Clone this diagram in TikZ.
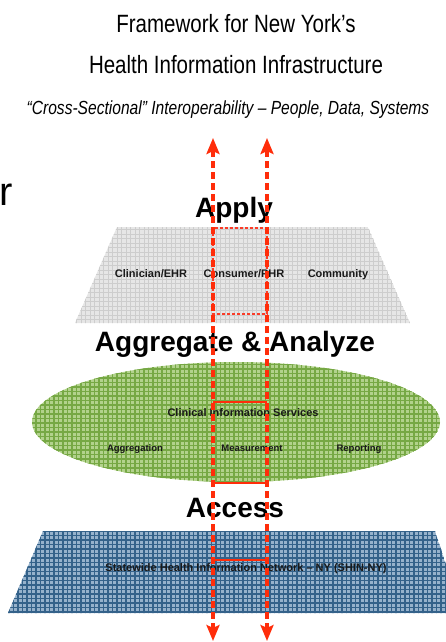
\documentclass[tikz,border=0pt]{standalone}
\usepackage{fontspec}
\setmainfont{Liberation Sans}
\newfontfamily\narrowsans[FakeStretch=0.82]{Liberation Sans}
\usetikzlibrary{arrows.meta}

\definecolor{flowred}{RGB}{255,45,10}
\definecolor{boxred}{RGB}{250,60,40}
\definecolor{layergray}{RGB}{230,230,230}
\definecolor{meshgray}{RGB}{205,205,205}
\definecolor{layergreen}{RGB}{178,210,140}
\definecolor{meshgreen}{RGB}{118,168,68}
\definecolor{layerblue}{RGB}{150,178,204}
\definecolor{meshblue}{RGB}{52,98,138}
\definecolor{labelink}{RGB}{25,25,25}

% fill a closed path and lay a square mesh over it
\newcommand\meshfill[4]{%
  \begin{scope}
    \clip #1;
    \fill[#2] #1;
    \foreach \k in {0,...,140} {
      \draw[#3, line width=#4] (\k*4.5,0) -- (\k*4.5,642);
      \draw[#3, line width=#4] (0,\k*4.5) -- (445,\k*4.5);
    }
  \end{scope}}

\tikzset{
  title/.style={font=\narrowsans\fontsize{25}{25}\selectfont, anchor=base, inner sep=0pt},
  subtitle/.style={font=\narrowsans\itshape\fontsize{19}{19}\selectfont, anchor=base, inner sep=0pt},
  stage/.style={font=\bfseries\fontsize{28}{28}\selectfont, anchor=base, inner sep=0pt},
  part/.style={font=\bfseries\fontsize{11}{11}\selectfont, text=labelink, anchor=base, inner sep=0pt},
  smallpart/.style={font=\bfseries\fontsize{9.5}{9.5}\selectfont, text=labelink, anchor=base, inner sep=0pt},
  flow/.style={draw=flowred, line width=4pt, dash pattern=on 7pt off 4pt,
    {Stealth[length=16pt,width=13pt,inset=3pt]}-{Stealth[length=16pt,width=13pt,inset=3pt]}},
  linkbar/.style={draw=flowred, line width=1.6pt},
  linkbox/.style={draw=boxred, line width=1.3pt, dash pattern=on 3pt off 2pt},
}

\begin{document}
\begin{tikzpicture}[x=1pt,y=-1pt]
  \useasboundingbox (0,0) rectangle (445,642);

  % headings
  \node[title] (t1) at (236,33) {Framework for New York’s};
  \node[title] (t2) at (236,74) {Health Information Infrastructure};
  \node[subtitle] (t3) at (228,114) {“Cross-Sectional” Interoperability – People, Data, Systems};
  \node[font=\fontsize{40}{40}\selectfont, anchor=base west, inner sep=0pt] (cut) at (-1,205) {r};

  % application layer
  \meshfill{(117,227) -- (368,227) -- (410,323) -- (75,323) -- cycle}{layergray}{meshgray}{0.7pt}
  \node[part] (clin) at (151,277) {Clinician/EHR};
  \node[part] (cons) at (244,277) {Consumer/PHR};
  \node[part] (comm) at (338,277) {Community};

  % clinical information services
  \meshfill{(236,422) ellipse [x radius=204, y radius=60]}{layergreen}{meshgreen}{1.4pt}
  \node[part] (cis) at (243,416) {Clinical Information Services};
  \node[smallpart] (agg) at (135,451) {Aggregation};
  \node[smallpart] (meas) at (252,451) {Measurement};
  \node[smallpart] (rep) at (359,451) {Reporting};

  % statewide network
  \meshfill{(43,531) -- (435,531) -- (462,613) -- (8,613) -- cycle}{layerblue}{meshblue}{1.6pt}
  \node[part] (shin) at (246,571) {Statewide Health Information Network – NY (SHIN-NY)};

  % stage labels
  \node[stage] (apply) at (234,217) {Apply};
  \node[stage] (aa) at (235,351) {Aggregate \& Analyze};
  \node[stage] (acc) at (235,517) {Access};

  % cross-sectional channel
  \coordinate (lt) at (213,138);
  \coordinate (lb) at (213,641);
  \coordinate (rt) at (267,138);
  \coordinate (rb) at (267,641);
  \coordinate (b1l) at (213,228);  \coordinate (b1r) at (267,314);
  \coordinate (s1l) at (213,402);  \coordinate (s1r) at (267,402);
  \coordinate (s2l) at (213,483);  \coordinate (s2r) at (267,483);
  \coordinate (s3l) at (213,560);  \coordinate (s3r) at (267,560);

  \draw[linkbox] (b1l) rectangle (b1r);
  \draw[linkbar] (s1l) -- (s1r);
  \draw[linkbar] (s2l) -- (s2r);
  \draw[linkbar] (s3l) -- (s3r);
  \draw[flow] (lt) -- (lb);
  \draw[flow] (rt) -- (rb);
\end{tikzpicture}
\end{document}
